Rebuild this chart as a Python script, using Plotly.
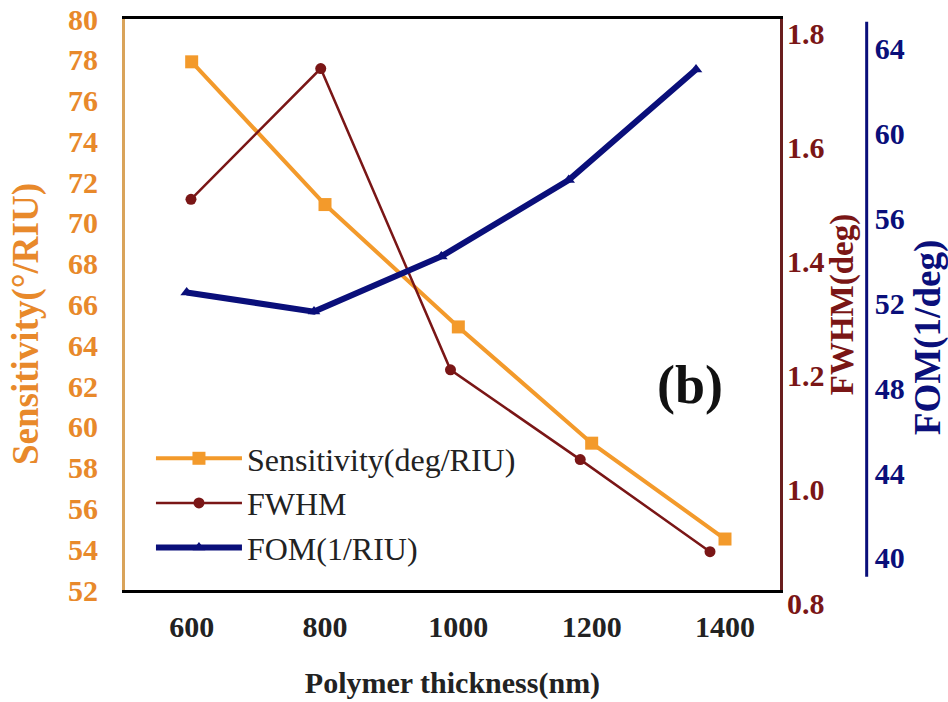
import plotly.graph_objects as go

# ---- data ----
thickness = [600, 800, 1000, 1200, 1400]
sensitivity = [77.9, 70.9, 64.9, 59.2, 54.5]
fwhm = [1.508, 1.738, 1.208, 1.050, 0.888]
fom = [52.5, 51.6, 54.2, 57.8, 63.0]

x_ticks = [600, 800, 1000, 1200, 1400]
sens_ticks = list(range(52, 81, 2))
fwhm_ticks = [0.8, 1.0, 1.2, 1.4, 1.6, 1.8]
fwhm_tick_text = ["0.8", "1.0", "1.2", "1.4", "1.6", "1.8"]
fom_ticks = [40, 44, 48, 52, 56, 60, 64]

ORANGE = "#F39A2B"
ORANGE_TXT = "#E8892B"
DARKRED = "#7A1616"
NAVY = "#0A0F7A"
SERIF = "Liberation Serif"

fig = go.Figure()
fig.add_trace(go.Scatter(
    x=thickness, y=sensitivity, name="Sensitivity(deg/RIU)",
    mode="lines+markers", xaxis="x", yaxis="y",
    line=dict(color=ORANGE, width=4),
    marker=dict(symbol="square", size=13, color=ORANGE)))
fig.add_trace(go.Scatter(
    x=thickness, y=fwhm, name="FWHM",
    mode="lines+markers", xaxis="x2", yaxis="y2",
    line=dict(color=DARKRED, width=2.5),
    marker=dict(symbol="circle", size=11, color=DARKRED)))
fig.add_trace(go.Scatter(
    x=thickness, y=fom, name="FOM(1/RIU)",
    mode="lines+markers", xaxis="x3", yaxis="y3",
    line=dict(color=NAVY, width=6),
    marker=dict(symbol="triangle-up", size=11, color=NAVY)))
# empty trace so the FWHM tick-label axis gets drawn
fig.add_trace(go.Scatter(
    x=[None], y=[None], xaxis="x", yaxis="y4", mode="markers",
    showlegend=False, hoverinfo="skip"))

XDOM = 0.84516
fig.update_layout(
    width=948, height=702,
    margin=dict(l=125, r=48, t=19, b=112),
    paper_bgcolor="white", plot_bgcolor="white",
    font=dict(family=SERIF),
    xaxis=dict(
        domain=[0, XDOM], range=[500, 1482.5], automargin=False,
        tickvals=x_ticks, ticks="", showgrid=False, zeroline=False,
        showline=True, linecolor="black", linewidth=3, mirror=True,
        tickfont=dict(family=SERIF, size=30, color="#222222", weight="bold"),
        ticklabelstandoff=8,
        title=dict(text="Polymer thickness(nm)", standoff=30,
                   font=dict(family=SERIF, size=30, color="#222222", weight="bold"))),
    xaxis2=dict(overlaying="x", range=[498.3, 1507.9], visible=False),
    xaxis3=dict(overlaying="x", range=[503.1, 1531.9], visible=False),
    yaxis=dict(
        range=[52, 80], tickvals=sens_ticks, ticks="", showgrid=False, zeroline=False,
        showline=True, linecolor="#D9A35A", linewidth=3, automargin=False,
        ticklabeloverflow="allow",
        tickfont=dict(family=SERIF, size=30, color=ORANGE_TXT, weight="bold"),
        ticklabelstandoff=18),
    yaxis2=dict(
        overlaying="y", side="right", anchor="x", range=[0.8206, 1.8252],
        showticklabels=False, ticks="", showgrid=False, zeroline=False,
        showline=True, linecolor="#6A1E1E", linewidth=3, automargin=False),
    yaxis4=dict(
        overlaying="y", side="right", anchor="x", range=[0.7995, 1.8005],
        tickvals=fwhm_ticks, ticktext=fwhm_tick_text, ticks="", automargin=False,
        showgrid=False, zeroline=False, showline=False, ticklabelshift=14,
        ticklabeloverflow="allow",
        tickfont=dict(family=SERIF, size=30, color=DARKRED, weight="bold"),
        ticklabelstandoff=6,
        title=dict(text="FWHM(deg)", standoff=0,
                   font=dict(family=SERIF, size=33, color=DARKRED, weight="bold"))),
    yaxis3=dict(
        overlaying="y", side="right", anchor="free", position=0.957,
        range=[38.49, 65.38], tickvals=fom_ticks, ticks="", automargin=False,
        showgrid=False, zeroline=False, showline=False,
        ticklabeloverflow="allow",
        tickfont=dict(family=SERIF, size=30, color=NAVY, weight="bold"),
        ticklabelstandoff=7),
    legend=dict(
        x=0.0335, y=0.2785, xanchor="left", yanchor="top",
        bgcolor="rgba(0,0,0,0)", borderwidth=0,
        font=dict(family=SERIF, size=32, color="#222222"),
        tracegroupgap=0, itemwidth=86),
    annotations=[
        dict(text="<b>(b)</b>", xref="paper", yref="paper",
             x=(690 - 125) / 775, y=(590 - 385) / 571,
             xanchor="center", yanchor="middle", showarrow=False,
             font=dict(family=SERIF, size=54, color="#111111")),
        dict(text="<b>Sensitivity(°/RIU)</b>", xref="paper", yref="paper",
             x=(26 - 125) / 775, y=(590 - 324) / 571, textangle=-90,
             xanchor="center", yanchor="middle", showarrow=False,
             font=dict(family=SERIF, size=37, color=ORANGE_TXT)),
        dict(text="<b>FOM(1/deg)</b>", xref="paper", yref="paper",
             x=(928 - 125) / 775, y=(590 - 338) / 571, textangle=-90,
             xanchor="center", yanchor="middle", showarrow=False,
             font=dict(family=SERIF, size=37, color=NAVY)),
    ],
    shapes=[dict(
        type="line", xref="paper", yref="paper",
        x0=0.957, x1=0.957, y0=0.0233, y1=0.9953,
        line=dict(color=NAVY, width=3))],
)

# remove the browser's default 8px body margin so the figure fills the window
fig.write_html("out.html", config={"displayModeBar": False},
               post_script="document.body.style.margin='0px';")
